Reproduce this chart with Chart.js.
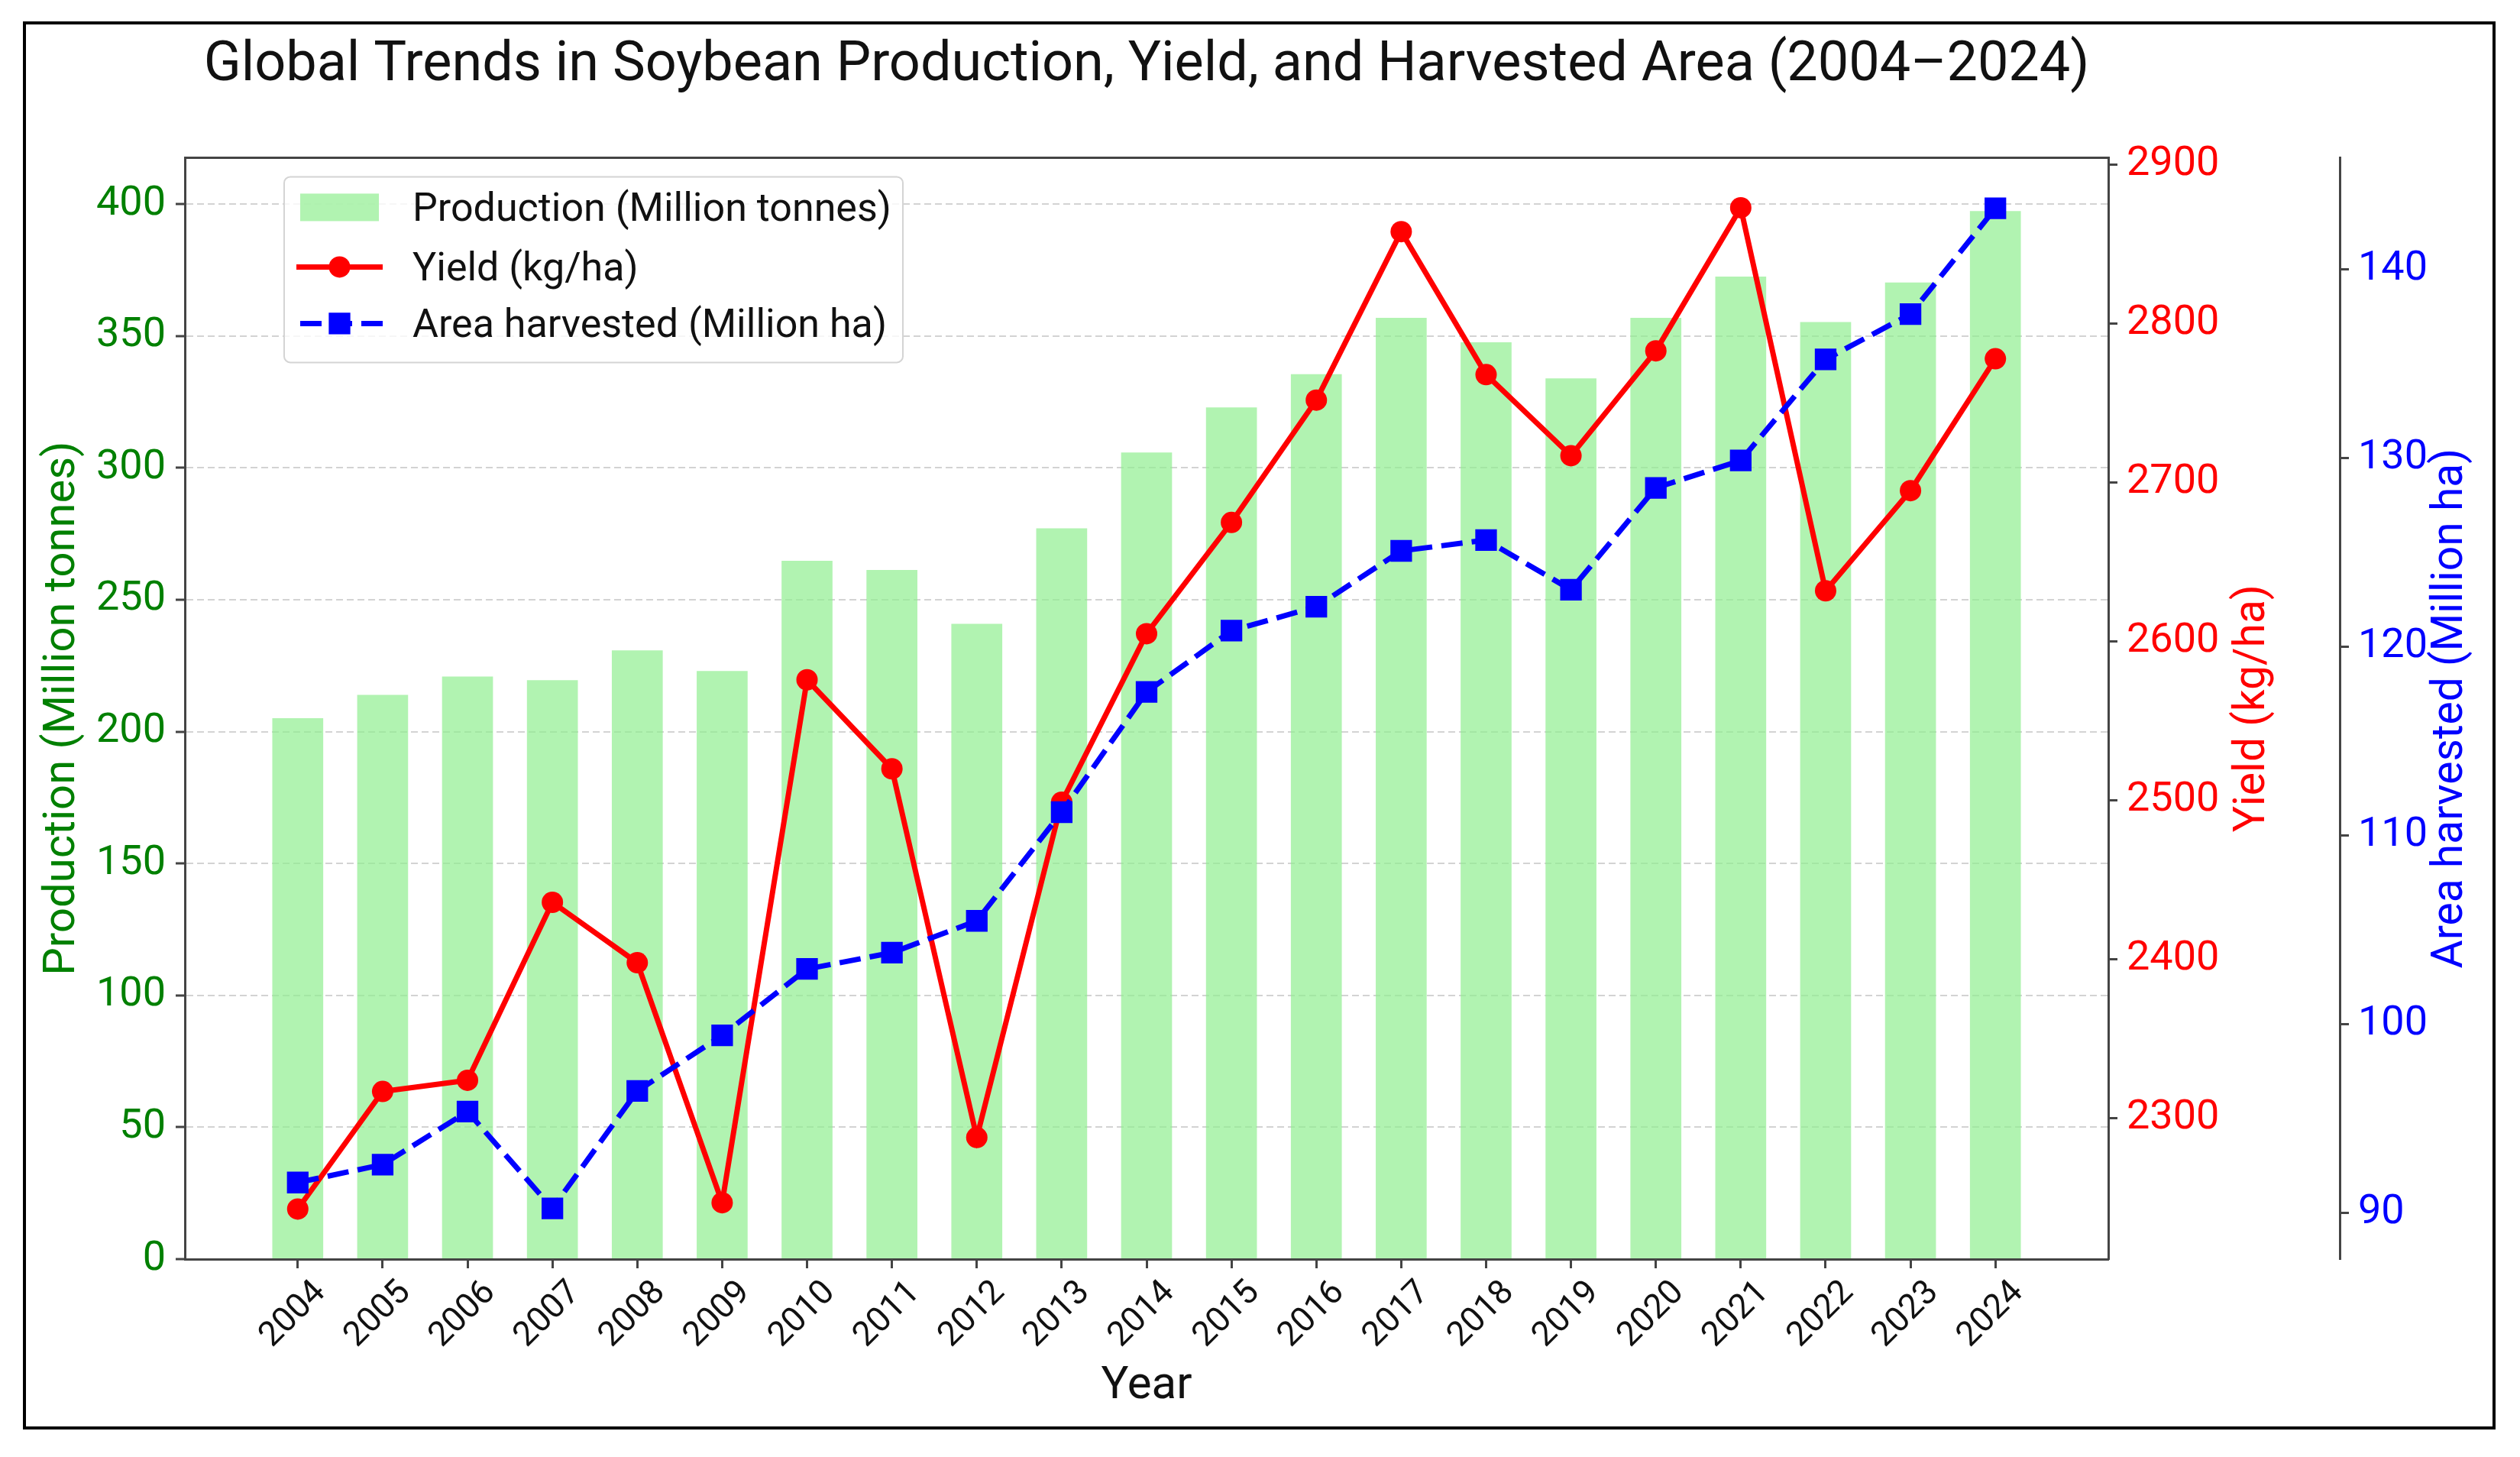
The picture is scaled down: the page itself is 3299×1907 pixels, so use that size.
<!DOCTYPE html>
<html>
<head>
<meta charset="utf-8">
<script src="https://cdn.jsdelivr.net/npm/chart.js@4.4.1/dist/chart.umd.min.js"></script>
<style>
  html, body { margin: 0; padding: 0; background: #fff; }
  #wrap { width: 3299px; height: 1907px; }
</style>
</head>
<body>
<div id="wrap"><canvas id="soyChart" width="3299" height="1907"></canvas></div>
<script>
// values
const years = [2004, 2005, 2006, 2007, 2008, 2009, 2010, 2011, 2012, 2013, 2014,
               2015, 2016, 2017, 2018, 2019, 2020, 2021, 2022, 2023, 2024];
const production = [205.1, 213.9, 220.9, 219.5, 230.8, 223.0, 264.8, 261.3, 240.9, 277.1, 305.8,
                    322.9, 335.5, 356.9, 347.6, 333.9, 356.9, 372.5, 355.3, 370.3, 397.4];
const yieldKgHa = [2243, 2317, 2324, 2436, 2398, 2247, 2576, 2520, 2288, 2499, 2605,
                   2675, 2752, 2858, 2768, 2717, 2783, 2873, 2632, 2695, 2778];
const areaHarvested = [91.6, 92.55, 95.36, 90.23, 96.45, 99.4, 102.92, 103.78, 105.47, 111.23, 117.6,
                       120.85, 122.12, 125.08, 125.65, 123.02, 128.42, 129.87, 135.23, 137.63, 143.24];

const productionTicks = [0, 50, 100, 150, 200, 250, 300, 350, 400];
const yieldTicks = [2300, 2400, 2500, 2600, 2700, 2800, 2900];
const areaTicks = [90, 100, 110, 120, 130, 140];

const FONT = 'Roboto, "DejaVu Sans", sans-serif';
const SPINE = '#444';
Chart.defaults.font.family = FONT;

const toPoints = vals => years.map((yr, i) => ({ x: yr, y: vals[i] }));
const setTicks = vals => scale => { scale.ticks = vals.map(v => ({ value: v })); };
const fixWidth = w => scale => { scale.width = w; };
const plain = v => String(v);

const barDs = {
    type: 'bar',
    label: 'Production (Million tonnes)',
    data: toPoints(production),
    backgroundColor: 'rgba(144, 238, 144, 0.7)',
    borderWidth: 0,
    categoryPercentage: 1,
    barPercentage: 0.6,
    yAxisID: 'y',
    order: 3
};
const yieldDs = {
    type: 'line',
    label: 'Yield (kg/ha)',
    data: toPoints(yieldKgHa),
    borderColor: 'red',
    backgroundColor: 'red',
    borderWidth: 7,
    pointStyle: 'circle',
    pointRadius: 14,
    pointBorderWidth: 0,
    tension: 0,
    yAxisID: 'yYield',
    order: 2
};
const areaDs = {
    type: 'line',
    label: 'Area harvested (Million ha)',
    data: toPoints(areaHarvested),
    borderColor: 'blue',
    backgroundColor: 'blue',
    borderWidth: 7,
    borderDash: [28, 12],
    pointStyle: 'rect',
    pointRadius: 20,
    pointBorderWidth: 0,
    tension: 0,
    yAxisID: 'yArea',
    order: 1
};

// white page, outer black frame, top spine of the plot box
const framePlugin = {
    id: 'frame',
    beforeDraw(chart) {
        const ctx = chart.ctx;
        ctx.save();
        ctx.fillStyle = '#fff';
        ctx.fillRect(0, 0, chart.width, chart.height);
        ctx.restore();
    },
    afterDraw(chart) {
        const ctx = chart.ctx;
        const a = chart.chartArea;
        ctx.save();
        ctx.strokeStyle = SPINE;
        ctx.lineWidth = 3;
        ctx.beginPath();
        ctx.moveTo(a.left, a.top);
        ctx.lineTo(a.right, a.top);
        ctx.stroke();
        ctx.strokeStyle = '#000';
        ctx.lineWidth = 4;
        ctx.strokeRect(32, 30, 3233, 1839);
        ctx.restore();
    }
};

// right-hand axis titles read bottom-to-top like matplotlib
const rightTitles = {
    id: 'rightTitles',
    afterDraw(chart) {
        const ctx = chart.ctx;
        const a = chart.chartArea;
        const midY = (a.top + a.bottom) / 2;
        const items = [
            { text: 'Yield (kg/ha)', color: 'red', x: chart.scales.yYield.left + 190 },
            { text: 'Area harvested (Million ha)', color: 'blue', x: chart.scales.yArea.left + 146 }
        ];
        ctx.save();
        ctx.font = '57px ' + FONT;
        ctx.textAlign = 'center';
        ctx.textBaseline = 'middle';
        items.forEach(it => {
            ctx.save();
            ctx.translate(it.x, midY);
            ctx.rotate(-Math.PI / 2);
            ctx.fillStyle = it.color;
            ctx.fillText(it.text, 0, 0);
            ctx.restore();
        });
        ctx.restore();
    }
};

// legend box in the upper left of the plot
const boxLegend = {
    id: 'boxLegend',
    afterDraw(chart) {
        const ctx = chart.ctx;
        const a = chart.chartArea;
        const x0 = a.left + 130, y0 = a.top + 25, w = 810, h = 243;
        ctx.save();
        ctx.beginPath();
        ctx.roundRect(x0, y0, w, h, 8);
        ctx.fillStyle = 'rgba(255,255,255,0.8)';
        ctx.fill();
        ctx.strokeStyle = '#d4d4d4';
        ctx.lineWidth = 2;
        ctx.stroke();

        const hx = x0 + 16, hw = 113;
        const rows = [y0 + 40, y0 + 118, y0 + 192];
        // bar handle
        ctx.fillStyle = barDs.backgroundColor;
        ctx.fillRect(hx + 5, rows[0] - 18, hw - 10, 36);
        // yield handle
        ctx.strokeStyle = yieldDs.borderColor;
        ctx.lineWidth = yieldDs.borderWidth;
        ctx.beginPath();
        ctx.moveTo(hx, rows[1]);
        ctx.lineTo(hx + hw, rows[1]);
        ctx.stroke();
        ctx.fillStyle = yieldDs.backgroundColor;
        ctx.beginPath();
        ctx.arc(hx + hw / 2, rows[1], yieldDs.pointRadius, 0, Math.PI * 2);
        ctx.fill();
        // area handle
        ctx.strokeStyle = areaDs.borderColor;
        ctx.setLineDash(areaDs.borderDash);
        ctx.beginPath();
        ctx.moveTo(hx + 5, rows[2]);
        ctx.lineTo(hx + hw, rows[2]);
        ctx.stroke();
        ctx.setLineDash([]);
        ctx.fillStyle = areaDs.backgroundColor;
        const s = areaDs.pointRadius * Math.SQRT1_2;
        ctx.fillRect(hx + hw / 2 - s, rows[2] - s, 2 * s, 2 * s);

        ctx.fillStyle = '#111';
        ctx.font = '52px ' + FONT;
        ctx.textAlign = 'left';
        ctx.textBaseline = 'middle';
        [barDs, yieldDs, areaDs].forEach((ds, i) => ctx.fillText(ds.label, x0 + 168, rows[i] + 5));
        ctx.restore();
    }
};

const tickGrid = { tickLength: 12, tickColor: SPINE, tickWidth: 3 };

new Chart(document.getElementById('soyChart'), {
    data: { datasets: [barDs, yieldDs, areaDs] },
    options: {
        responsive: false,
        devicePixelRatio: 1,
        animation: false,
        layout: { padding: { left: 40, right: 35, top: 0, bottom: 39 } },
        plugins: {
            legend: { display: false },
            tooltip: { enabled: false },
            title: {
                display: true,
                fullSize: false,
                text: 'Global Trends in Soybean Production, Yield, and Harvested Area (2004–2024)',
                color: '#111',
                font: { size: 72, weight: 'normal' },
                padding: { top: 44, bottom: 76 }
            }
        },
        scales: {
            x: {
                type: 'linear',
                offset: false,
                min: 2002.67,
                max: 2025.33,
                afterBuildTicks: setTicks(years),
                afterFit: s => { s.height = 220; },
                grid: { offset: false, drawOnChartArea: false, ...tickGrid },
                border: { color: SPINE, width: 3 },
                ticks: {
                    autoSkip: false,
                    minRotation: 45,
                    maxRotation: 45,
                    color: '#111',
                    font: { size: 45 },
                    padding: 6,
                    labelOffset: 30,
                    callback: plain
                },
                title: { display: true, text: 'Year', color: '#111', font: { size: 60 }, padding: { top: 0, bottom: 17 } }
            },
            y: {
                position: 'left',
                min: 0,
                max: 417.6,
                afterBuildTicks: setTicks(productionTicks),
                afterFit: fixWidth(202),
                grid: { color: 'rgba(200,200,200,0.8)', lineWidth: 2, ...tickGrid },
                border: { color: SPINE, width: 3, dash: [9, 5] },
                ticks: { color: 'green', font: { size: 54 }, padding: 13, callback: plain },
                title: { display: true, text: 'Production (Million tonnes)', color: 'green', font: { size: 58 }, padding: { top: 8, bottom: 0 } }
            },
            yYield: {
                position: 'right',
                weight: 1,
                min: 2211.5,
                max: 2904.5,
                afterBuildTicks: setTicks(yieldTicks),
                afterFit: fixWidth(303),
                grid: { drawOnChartArea: false, ...tickGrid },
                border: { color: SPINE, width: 3 },
                ticks: { color: 'red', font: { size: 54 }, padding: 12, callback: plain }
            },
            yArea: {
                position: 'right',
                weight: 2,
                min: 87.54,
                max: 145.92,
                afterBuildTicks: setTicks(areaTicks),
                afterFit: fixWidth(201),
                grid: { drawOnChartArea: false, ...tickGrid },
                border: { color: SPINE, width: 3 },
                ticks: { color: 'blue', font: { size: 54 }, padding: 12, callback: plain }
            }
        }
    },
    plugins: [framePlugin, rightTitles, boxLegend]
});
</script>
</body>
</html>
